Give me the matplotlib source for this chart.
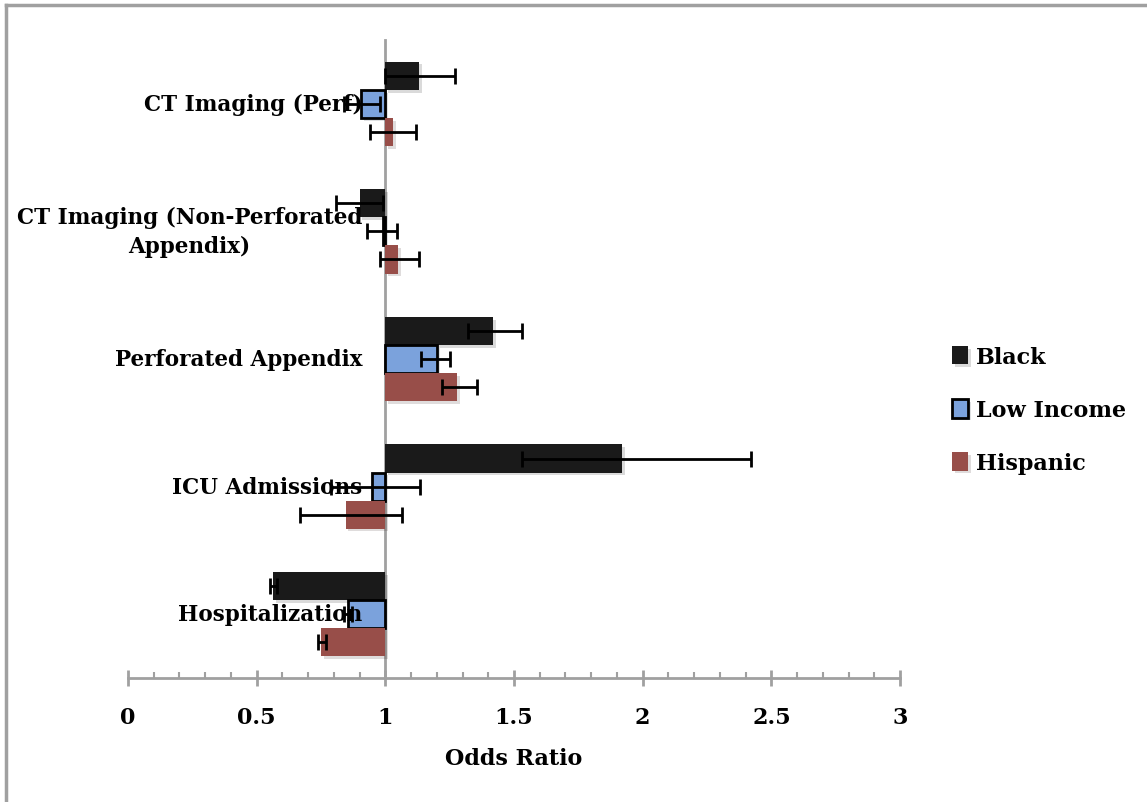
import numpy as np
import matplotlib
matplotlib.use("Agg")
import matplotlib.pyplot as plt
from matplotlib import patheffects as pe
from matplotlib.lines import Line2D

plt.rcParams['font.family'] = ['DejaVu Serif']
plt.rcParams['font.weight'] = 'bold'

# outcomes, top to bottom
outcomes = ["CT Imaging (Perf)", "CT Imaging (Non-Perforated\nAppendix)",
            "Perforated Appendix", "ICU Admissions", "Hospitalization"]

# odds ratios with lower / upper confidence limits
black = [1.13, 0.90, 1.42, 1.92, 0.565]
black_lo = [1.00, 0.81, 1.32, 1.53, 0.55]
black_hi = [1.27, 0.99, 1.53, 2.42, 0.58]

low_income = [0.905, 0.99, 1.20, 0.947, 0.855]
low_income_lo = [0.84, 0.93, 1.14, 0.79, 0.84]
low_income_hi = [0.98, 1.045, 1.25, 1.135, 0.87]

hispanic = [1.03, 1.05, 1.28, 0.846, 0.75]
hispanic_lo = [0.94, 0.98, 1.22, 0.67, 0.74]
hispanic_hi = [1.12, 1.13, 1.355, 1.065, 0.77]

x_ticks = [0, 0.5, 1, 1.5, 2, 2.5, 3]
x_ticklabels = ["0", "0.5", "1", "1.5", "2", "2.5", "3"]

series = [
    ("Black", black, black_lo, black_hi, "#1a1a1a", "none", -0.22),
    ("Low Income", low_income, low_income_lo, low_income_hi, "#7ba2dc", "black", 0.0),
    ("Hispanic", hispanic, hispanic_lo, hispanic_hi, "#984e49", "none", 0.22),
]

fig = plt.figure(figsize=(11.47, 8.03), dpi=100)
ax = fig.add_axes([128 / 1147, 1 - 679 / 803, 772 / 1147, 638 / 803])

y = np.arange(len(outcomes))
shadow = [pe.SimplePatchShadow(offset=(2, -2), alpha=0.15), pe.Normal()]

handles = []
for name, vals, lo, hi, color, edge, off in series:
    vals = np.array(vals)
    bars = ax.barh(y + off, vals - 1, left=1, height=0.22, color=color,
                   edgecolor=edge, linewidth=2 if edge != "none" else 0,
                   zorder=2, label=name)
    for b in bars:
        b.set_path_effects(shadow)
    err = [vals - np.array(lo), np.array(hi) - vals]
    ax.errorbar(vals, y + off, xerr=err, fmt="none", ecolor="black",
                elinewidth=2, capsize=6, capthick=2, zorder=4)
    handles.append(bars)

ax.set_xlim(0, 3)
ax.set_ylim(4.5, -0.5)

# axis styling: baseline at odds ratio 1
for s in ["top", "right"]:
    ax.spines[s].set_visible(False)
ax.spines["left"].set_position(("data", 1))
ax.spines["left"].set_color("#a0a0a0")
ax.spines["left"].set_linewidth(2)
ax.spines["left"].set_zorder(1)
ax.spines["bottom"].set_color("#a0a0a0")
ax.spines["bottom"].set_linewidth(2)
ax.set_yticks([])

ax.set_xticks(x_ticks)
ax.set_xticklabels(x_ticklabels, fontweight="bold")
ax.set_xticks(np.arange(0, 3.001, 0.1), minor=True)
ax.tick_params(axis="x", which="major", direction="inout", length=12,
               width=2, color="#a0a0a0", labelsize=16, pad=14)
ax.tick_params(axis="x", which="minor", direction="in", length=4,
               width=1.5, color="#a0a0a0")
ax.set_xlabel("Odds Ratio", fontsize=16, fontweight="bold", labelpad=14)

for yi, label in zip(y, outcomes):
    ax.text(0.91, yi, label, ha="right", va="center", multialignment="center",
            fontsize=15.5, fontweight="bold", linespacing=1.45, zorder=3)

leg = ax.legend(handles=handles, loc="center left", bbox_to_anchor=(1.042, 0.42),
                frameon=False, fontsize=16, handlelength=0.7, handleheight=0.9,
                handletextpad=0.35, labelspacing=1.4)

# outer frame of the chart area
fig.add_artist(Line2D([6 / 1147, 6 / 1147], [0, 1 - 6 / 803], color="#a0a0a0", lw=2.5))
fig.add_artist(Line2D([6 / 1147, 1], [1 - 6 / 803, 1 - 6 / 803], color="#a0a0a0", lw=2.5))

fig.savefig("out.png", dpi=100)
